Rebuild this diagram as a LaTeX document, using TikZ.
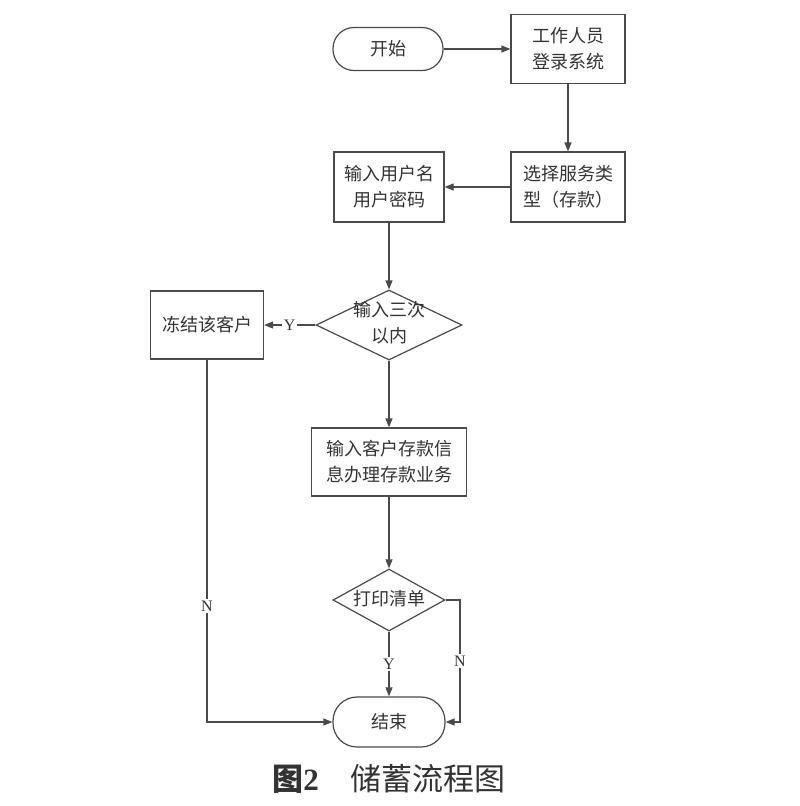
\documentclass[tikz,border=0pt]{standalone}
\usepackage{fontspec}
\setmainfont{Liberation Serif}
\newfontfamily\cjk{Noto Sans CJK SC}
\usetikzlibrary{shapes.geometric,arrows.meta}
\definecolor{ln}{HTML}{4A4A4A}
\definecolor{tx}{HTML}{333333}
\tikzset{
  base/.style={draw=ln, line width=1.2pt, text=tx, font=\cjk\fontsize{18}{26}\selectfont, align=center, inner sep=0pt},
  boxnode/.style={base, rectangle},
  term/.style={base, rectangle, rounded corners=21pt},
  dia/.style={draw=ln, line width=1.2pt, diamond, inner sep=0pt},
  dtext/.style={text=tx, font=\cjk\fontsize{18}{26}\selectfont, align=center},
  conn/.style={draw=ln, line width=1.2pt, -{Triangle[length=9pt,width=7pt]}},
  lab/.style={fill=white, text=tx, font=\fontsize{16}{16}\selectfont, inner sep=1.5pt}
}
\begin{document}
\begin{tikzpicture}[x=1pt,y=-1pt]
\useasboundingbox (0,0) rectangle (800,806);
\fill[white] (0,0) rectangle (800,806);

\node[term, minimum width=110pt, minimum height=43pt] (start) at (388,49) {开始};
\node[boxnode, minimum width=114pt, minimum height=69pt] (login) at (568,49) {工作人员\\登录系统};
\node[boxnode, minimum width=114pt, minimum height=70pt] (select) at (568,187) {选择服务类\\型（存款）};
\node[boxnode, minimum width=110pt, minimum height=70pt] (input) at (389,187) {输入用户名\\用户密码};
\node[dia, minimum width=146pt, minimum height=70pt] (d1) at (389,325) {};
\node[dtext] (d1t) at (389,323) {输入三次\\以内};
\node[boxnode, minimum width=113pt, minimum height=68pt] (freeze) at (207,325) {冻结该客户};
\node[boxnode, minimum width=155pt, minimum height=68pt] (deposit) at (389,462) {输入客户存款信\\息办理存款业务};
\node[dia, minimum width=112pt, minimum height=62pt] (d2) at (389,600) {};
\node[dtext] (d2t) at (389,599) {打印清单};
\node[term, minimum width=112pt, minimum height=50pt, rounded corners=24pt] (end) at (389,722) {结束};

\coordinate (c1) at (460,600);
\coordinate (c2) at (460,722);
\coordinate (c3) at (207,722);

\draw[conn] (start.east) -- (login.west);
\draw[conn] (login.south) -- (select.north);
\draw[conn] (select.west) -- (input.east);
\draw[conn] (input.south) -- (d1.north);
\draw[conn] (d1.west) -- node[lab] {Y} (freeze.east);
\draw[conn] (d1.south) -- (deposit.north);
\draw[conn] (deposit.south) -- (d2.north);
\draw[conn] (d2.south) -- node[lab] {Y} (end.north);
\draw[conn] (d2.east) -- (c1) -- node[lab] {N} (c2) -- (end.east);
\draw[conn] (freeze.south) -- node[lab, pos=0.68] {N} (c3) -- (end.west);

\node[text=tx, font=\fontsize{31}{31}\selectfont] (cap) at (389,779) {{\cjk\bfseries 图}{\bfseries 2}\hspace{32pt}{\cjk 储蓄流程图}};
\end{tikzpicture}
\end{document}
